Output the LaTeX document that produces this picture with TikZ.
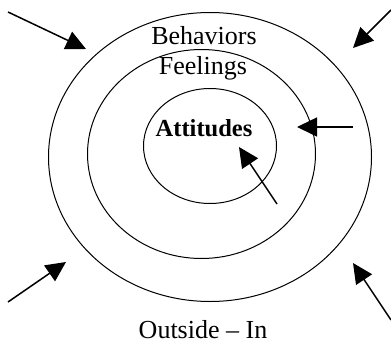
\documentclass[tikz,border=0pt]{standalone}
\usepackage{fontspec}
\setmainfont{Liberation Serif}
\usetikzlibrary{arrows.meta,shapes.geometric}

\begin{document}
\begin{tikzpicture}[x=1pt,y=-1pt,ring/.style={draw,ellipse,line width=1pt,inner sep=0pt},txt/.style={anchor=base,inner sep=0pt,font=\fontsize{26}{30}\selectfont},arrow/.style={-{Triangle[length=20pt,width=19pt]},line width=1.5pt}]
\useasboundingbox (0,0) rectangle (391,343);
\node[ring,minimum width=323pt,minimum height=289pt] (outer) at (210,157) {};
\node[ring,minimum width=228pt,minimum height=209pt] (middle) at (201.5,154) {};
\node[ring,minimum width=133pt,minimum height=115pt] (inner) at (210,146) {};
\node[txt] (beh) at (204,44) {Behaviors};
\node[txt] (feel) at (203,74) {Feelings};
\node[txt,font=\fontsize{24.5}{28}\selectfont\bfseries] (att) at (204,136) {Attitudes};
\node[txt] (out) at (203,338) {Outside -- In};
\coordinate (a1) at (8,12);
\coordinate (t1) at (86,49);
\coordinate (a2) at (391,10);
\coordinate (t2) at (353,48);
\coordinate (a3) at (353,127);
\coordinate (t3) at (297,127);
\coordinate (a4) at (277,204);
\coordinate (t4) at (239,147);
\coordinate (a5) at (8,302);
\coordinate (t5) at (66,262);
\coordinate (a6) at (391,320);
\coordinate (t6) at (353,263);
\draw[arrow] (a1) -- (t1);
\draw[arrow] (a2) -- (t2);
\draw[arrow] (a3) -- (t3);
\draw[arrow] (a4) -- (t4);
\draw[arrow] (a5) -- (t5);
\draw[arrow] (a6) -- (t6);
\end{tikzpicture}
\end{document}
